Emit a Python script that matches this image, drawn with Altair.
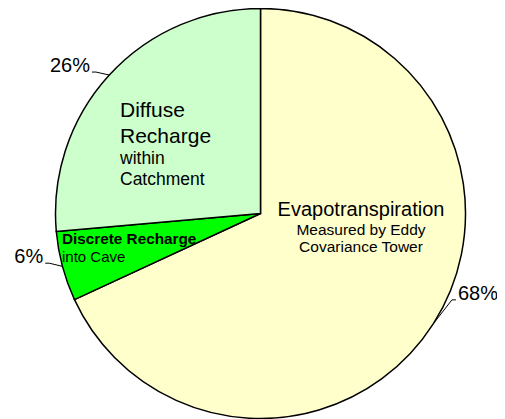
import math
import altair as alt
import pandas as pd

# ---- data -------------------------------------------------------------
CATEGORIES = ["Evapotranspiration", "Discrete Recharge", "Diffuse Recharge"]
VALUES = [68.1, 5.5, 26.4]          # percent of water balance
COLORS = ["#FFFFCC", "#00FF00", "#CCFFCC"]

# in-slice text lines: (text, slice index, size, weight)
TEXT_LINES = [
    ("Evapotranspiration", 0, 20, "normal"),
    ("Measured by Eddy", 0, 15.5, "normal"),
    ("Covariance Tower", 0, 15.5, "normal"),
    ("Discrete Recharge", 1, 15.3, "bold"),
    ("into Cave", 1, 15, "normal"),
    ("Diffuse", 2, 21, "normal"),
    ("Recharge", 2, 21, "normal"),
    ("within", 2, 17.5, "normal"),
    ("Catchment", 2, 17.5, "normal"),
]

# ---- layout (style) ---------------------------------------------------
W, H = 489, 411
CX, CY = 252.5, 205.5
R = 205
FONT = "Liberation Sans"
LEADER_SHIFT = [-8.3, 1.7, -1.8]     # degrees, elbow angle offset from slice middle
LEADER_R = [210, 217, 217]           # elbow radius per slice
# text line offsets from pie centre (dx, baseline dy, align)
TEXT_POS = [
    (100.5, 2.5, "center"),
    (100.5, 21.5, "center"),
    (100.5, 38.5, "center"),
    (-198.5, 30.5, "left"),
    (-198.5, 48.5, "left"),
    (-140.5, -96.5, "left"),
    (-140.5, -70.5, "left"),
    (-140.5, -49.5, "left"),
    (-140.5, -28.5, "left"),
]

total = sum(VALUES)
pie_df = pd.DataFrame({"cat": CATEGORIES, "value": VALUES, "idx": range(len(VALUES))})

# leader lines and percent labels derived from slice angles
line_rows, lab_rows = [], []
cum = 0.0
for i, (c, v) in enumerate(zip(CATEGORIES, VALUES)):
    mid = (cum + v / 2) / total * 2 * math.pi
    cum += v
    ex, ey = R * math.sin(mid), -R * math.cos(mid)
    a2 = mid + math.radians(LEADER_SHIFT[i])
    bx, by = LEADER_R[i] * math.sin(a2), -LEADER_R[i] * math.cos(a2)
    side = 1 if bx > 0 else -1
    tx, ty = bx + side * 4, by
    for k, (px, py) in enumerate([(ex, ey), (bx, by), (tx, ty)]):
        line_rows.append({"cat": c, "k": k, "dx": px, "dy": py})
    lab_rows.append({"cat": c, "dx": tx + side * 2, "dy": ty,
                     "label": f"{round(v)}%", "side": "right" if side > 0 else "left"})
line_df = pd.DataFrame(line_rows)
lab_df = pd.DataFrame(lab_rows)

txt_df = pd.DataFrame([
    {"text": t, "size": s, "weight": w, "dx": p[0], "dy": p[1], "align": p[2]}
    for (t, _, s, w), p in zip(TEXT_LINES, TEXT_POS)
])

xs = alt.Scale(domain=[-CX, W - CX], range=[0, W], nice=False, zero=False)
ys = alt.Scale(domain=[-CY, H - CY], range=[0, H], nice=False, zero=False)

arc = alt.Chart(pie_df).mark_arc(outerRadius=R, stroke="black", strokeWidth=1.5).encode(
    theta=alt.Theta("value:Q", stack=True),
    color=alt.Color("cat:N", scale=alt.Scale(domain=CATEGORIES, range=COLORS), legend=None),
    order=alt.Order("idx:Q"),
    x=alt.value(CX),
    y=alt.value(CY),
)

lines = alt.Chart(line_df).mark_line(color="black", strokeWidth=1).encode(
    x=alt.X("dx:Q", scale=xs, axis=None),
    y=alt.Y("dy:Q", scale=ys, axis=None),
    detail="cat:N",
    order="k:Q",
)

def pct_layer(side, align):
    return alt.Chart(lab_df[lab_df.side == side]).mark_text(
        font=FONT, fontSize=20, align=align, baseline="alphabetic", color="black"
    ).encode(x=alt.X("dx:Q", scale=xs, axis=None), y=alt.Y("dy:Q", scale=ys, axis=None),
             text="label:N")

def txt_layer(row):
    return alt.Chart(pd.DataFrame([row])).mark_text(
        font=FONT, fontSize=row["size"], fontWeight=row["weight"], align=row["align"],
        baseline="alphabetic", color="black"
    ).encode(x=alt.X("dx:Q", scale=xs, axis=None), y=alt.Y("dy:Q", scale=ys, axis=None),
             text="text:N")

layers = [arc, lines, pct_layer("left", "right"), pct_layer("right", "left")]
layers += [txt_layer(r) for r in txt_df.to_dict("records")]

chart = alt.layer(*layers).properties(
    width=W, height=H, autosize=alt.AutoSizeParams(type="none"), padding=0
).configure_view(stroke=None)

chart.save("out.html", embed_options={"renderer": "svg", "actions": False})
